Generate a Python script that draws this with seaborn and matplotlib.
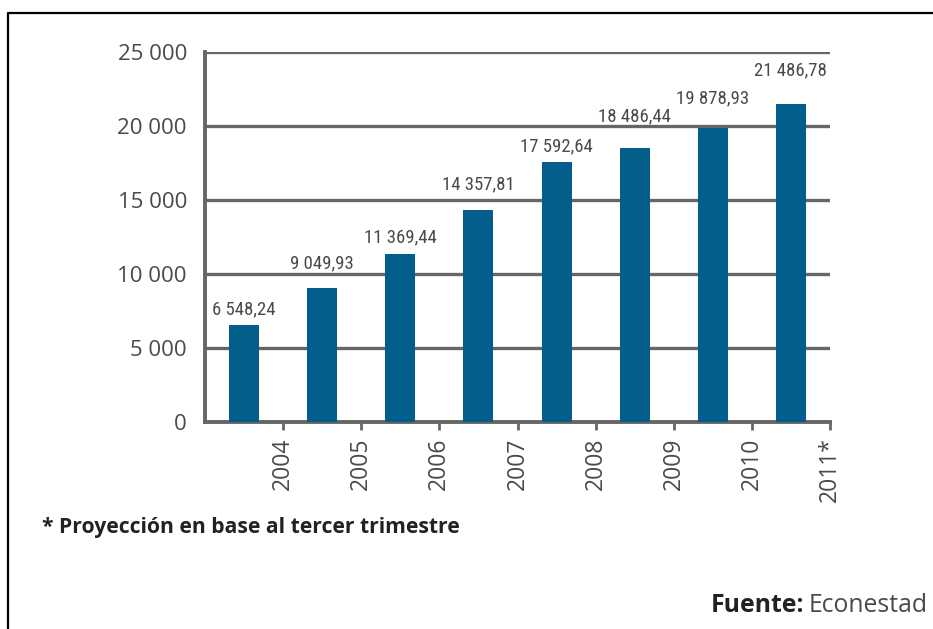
import matplotlib
matplotlib.use("Agg")
import matplotlib.pyplot as plt
from matplotlib import font_manager
from matplotlib.lines import Line2D
import numpy as np
import pandas as pd
import seaborn as sns

# Data
years = ["2004", "2005", "2006", "2007", "2008", "2009", "2010", "2011"]
year_labels = ["2004", "2005", "2006", "2007", "2008", "2009", "2010", "2011*"]
values = [6548.24, 9049.93, 11369.44, 14357.81, 17592.64, 18486.44, 19878.93, 21486.78]
y_ticks = [0, 5000, 10000, 15000, 20000, 25000]
y_tick_labels = ["0", "5 000", "10 000", "15 000", "20 000", "25 000"]

# Vertical lift of each value label above its bar, in points
label_lift = [11, 18, 12, 18, 11, 23, 21, 24]

BAR = "#035e8c"
GRID = "#666666"
TXT = "#4a4a4a"

sns.set_theme(style="white")

installed = {f.name for f in font_manager.fontManager.ttflist}
def pick(*names):
    for n in names:
        if n in installed:
            return n
    return "DejaVu Sans"

main_font = pick("Open Sans", "Noto Sans", "DejaVu Sans")
narrow_font = pick("Liberation Sans Narrow", "Roboto Condensed", "Roboto", "DejaVu Sans")
plt.rcParams["font.family"] = [main_font, "DejaVu Sans"]

df = pd.DataFrame({"year": years, "value": values})

fig = plt.figure(figsize=(9.33, 6.29), dpi=100)
ax = fig.add_axes([205 / 933, 1 - 422 / 629, 625 / 933, 370 / 629])

sns.barplot(data=df, x="year", y="value", color=BAR, saturation=1,
            width=0.385, linewidth=0, ax=ax, zorder=3)

ax.set_xlim(-0.5, len(years) - 0.5)
ax.set_ylim(0, 25000)
ax.set_xlabel("")
ax.set_ylabel("")

ax.set_yticks(y_ticks)
ax.set_yticklabels(y_tick_labels, fontsize=16, color=TXT)
ax.tick_params(axis="y", length=0, pad=13)

ax.set_xticks(np.arange(len(years)) + 0.5)
ax.set_xticklabels(year_labels, rotation=90, fontsize=16.5, color=TXT,
                   ha="center", va="top")
ax.tick_params(axis="x", bottom=True, length=6, width=2, color=GRID, pad=5)

ax.yaxis.grid(True, color=GRID, lw=2.4)
ax.xaxis.grid(False)
ax.set_axisbelow(True)

for s in ("top", "right"):
    ax.spines[s].set_visible(False)
for s in ("left", "bottom"):
    ax.spines[s].set_color(GRID)
    ax.spines[s].set_linewidth(2.8)

for i, (v, lift) in enumerate(zip(values, label_lift)):
    txt = f"{v:,.2f}".replace(",", " ").replace(".", ",")
    ax.annotate(txt, xy=(i, v), xytext=(0, lift), textcoords="offset points",
                ha="center", va="center", fontsize=13.5, color=TXT,
                family=[narrow_font, "DejaVu Sans"], zorder=4)

# Notes below the chart
fig.text(42 / 933, 1 - 528 / 629, "* Proyección en base al tercer trimestre",
         fontsize=15.2, weight="bold", color="#222222", va="center")
src = fig.text(928 / 933, 1 - 605 / 629, "Econestad", fontsize=17.8,
               color=TXT, va="center", ha="right")
fig.canvas.draw()
bb = src.get_window_extent(fig.canvas.get_renderer())
fig.text((bb.x0 - 5) / 933, 1 - 605 / 629, "Fuente:", fontsize=17.8,
         weight="bold", color="#222222", va="center", ha="right")

# Frame line along the left and top edges
fig.add_artist(Line2D([8 / 933, 8 / 933, 1.0], [0.0, 1 - 13 / 629, 1 - 13 / 629],
                      transform=fig.transFigure, color="black", lw=1.6))

fig.savefig("out.png", dpi=100)
